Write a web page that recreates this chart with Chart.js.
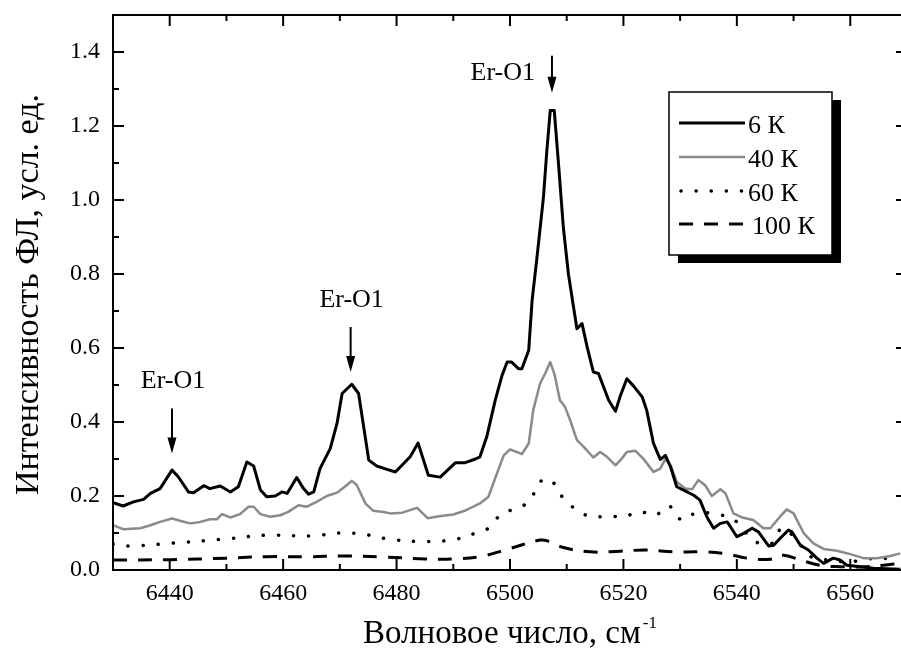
<!DOCTYPE html>
<html>
<head>
<meta charset="utf-8">
<script src="https://cdn.jsdelivr.net/npm/chart.js@4.4.0/dist/chart.umd.min.js"></script>
<style>
  html, body { margin: 0; padding: 0; background: #fff; overflow: hidden; }
  #plChart { display: block; }
</style>
</head>
<body>
<canvas id="plChart" width="910" height="653"></canvas>
<script>
// волновое число (см-1) и интенсивность ФЛ для каждой температуры
var wn6K = [6430, 6431.8, 6433.6, 6435.4, 6436.6, 6438.3, 6440.4, 6441.5, 6443.3, 6444.2, 6446, 6447.1, 6448.9, 6450.7, 6452.1, 6453.6, 6454.8, 6456, 6457.1, 6458.6, 6459.8, 6460.7, 6462.4, 6463.6, 6464.5, 6465.4, 6466.5, 6468.3, 6469.5, 6470.4, 6472.1, 6473.3, 6475.1, 6476.5, 6478.3, 6479.8, 6482.4, 6483.8, 6485.6, 6487.7, 6489, 6490.4, 6492.1, 6493.9, 6494.7, 6495.9, 6497.4, 6498.6, 6499.5, 6500.3, 6501.5, 6502.1, 6503.3, 6503.9, 6504.7, 6505.9, 6506.5, 6507.1, 6507.8, 6508.6, 6509.4, 6510.3, 6511.2, 6511.8, 6512.7, 6513.6, 6514.7, 6515.6, 6517.4, 6518.6, 6519.4, 6520.6, 6521.8, 6523.3, 6524.1, 6525.3, 6526.5, 6527.4, 6528.3, 6529.4, 6530.6, 6532.4, 6533.5, 6534.7, 6535.9, 6537.1, 6538.3, 6540, 6541.2, 6542.7, 6543.8, 6545.6, 6546.5, 6547.6, 6549.1, 6549.7, 6551.2, 6552.6, 6554.1, 6555.3, 6557, 6558.2, 6559.4, 6561.8, 6564.1, 6568.8];
var int6K = [0.182, 0.173, 0.184, 0.191, 0.207, 0.22, 0.27, 0.252, 0.211, 0.209, 0.228, 0.22, 0.227, 0.211, 0.225, 0.292, 0.281, 0.216, 0.198, 0.20, 0.211, 0.207, 0.25, 0.22, 0.205, 0.211, 0.274, 0.328, 0.396, 0.477, 0.502, 0.477, 0.297, 0.281, 0.272, 0.265, 0.306, 0.343, 0.256, 0.251, 0.27, 0.29, 0.29, 0.3, 0.306, 0.36, 0.459, 0.526, 0.562, 0.562, 0.544, 0.544, 0.594, 0.729, 0.837, 1.008, 1.134, 1.242, 1.242, 1.089, 0.927, 0.80, 0.711, 0.652, 0.666, 0.603, 0.535, 0.531, 0.459, 0.429, 0.468, 0.517, 0.497, 0.468, 0.432, 0.342, 0.299, 0.31, 0.279, 0.225, 0.216, 0.202, 0.189, 0.144, 0.113, 0.126, 0.13, 0.09, 0.099, 0.113, 0.103, 0.065, 0.067, 0.085, 0.108, 0.103, 0.067, 0.054, 0.032, 0.018, 0.032, 0.027, 0.013, 0.009, 0.005, 0.002];

var wn40K = [6430, 6431.9, 6434.8, 6436.6, 6438.3, 6440.4, 6441.8, 6443.6, 6445.4, 6447.1, 6448.3, 6449.2, 6450.7, 6452.4, 6453.9, 6454.8, 6456, 6457.7, 6459.5, 6460.9, 6462.7, 6464.2, 6465.9, 6467.7, 6469.5, 6471.2, 6472.1, 6473, 6474.5, 6475.9, 6477.7, 6478.9, 6481, 6483.6, 6485.5, 6487.5, 6490, 6492, 6494.7, 6496.2, 6497.7, 6498.9, 6500, 6501.2, 6502.1, 6503.3, 6504.1, 6505.3, 6506.2, 6507.1, 6507.9, 6508.8, 6509.7, 6510.6, 6511.8, 6513, 6514.7, 6515.9, 6517.1, 6518.6, 6519.7, 6520.6, 6522.1, 6523.5, 6525.3, 6526.5, 6527.4, 6528.3, 6529.4, 6530.9, 6532.1, 6533.2, 6534.4, 6535.6, 6537.1, 6538, 6539.4, 6540.9, 6542.9, 6544.7, 6545.9, 6547.6, 6548.8, 6550, 6551.8, 6553.5, 6555.3, 6557.6, 6560, 6562.3, 6564.7, 6567, 6568.8];
var int40K = [0.121, 0.11, 0.113, 0.121, 0.13, 0.139, 0.133, 0.126, 0.13, 0.137, 0.137, 0.151, 0.142, 0.151, 0.171, 0.171, 0.151, 0.144, 0.148, 0.157, 0.175, 0.171, 0.184, 0.2, 0.209, 0.229, 0.241, 0.229, 0.18, 0.16, 0.157, 0.153, 0.155, 0.168, 0.14, 0.145, 0.15, 0.16, 0.18, 0.198, 0.261, 0.31, 0.326, 0.319, 0.313, 0.342, 0.432, 0.504, 0.531, 0.562, 0.526, 0.459, 0.441, 0.405, 0.351, 0.333, 0.304, 0.319, 0.306, 0.283, 0.301, 0.319, 0.322, 0.301, 0.265, 0.274, 0.301, 0.283, 0.238, 0.22, 0.218, 0.243, 0.229, 0.2, 0.218, 0.207, 0.153, 0.142, 0.135, 0.113, 0.113, 0.144, 0.164, 0.153, 0.099, 0.072, 0.057, 0.052, 0.043, 0.032, 0.032, 0.038, 0.045];

var wn60K = [6430, 6433, 6440, 6450, 6457, 6465, 6470, 6474, 6478, 6484, 6490, 6494, 6496.2, 6498.6, 6501.2, 6503.6, 6505, 6507, 6509.2, 6511.8, 6514.4, 6517.4, 6520, 6523, 6525.6, 6528, 6530.3, 6532.7, 6536.8, 6540, 6543, 6546.2, 6548, 6551.5, 6553.5, 6557, 6559.7, 6562.3, 6568.8];
var int60K = [0.07, 0.065, 0.072, 0.084, 0.094, 0.092, 0.1, 0.097, 0.085, 0.077, 0.082, 0.1, 0.113, 0.153, 0.166, 0.189, 0.234, 0.245, 0.198, 0.162, 0.144, 0.146, 0.144, 0.157, 0.148, 0.173, 0.135, 0.153, 0.15, 0.13, 0.079, 0.072, 0.113, 0.063, 0.032, 0.027, 0.02, 0.029, 0.032];

var wn100K = [6430, 6440, 6450, 6457, 6465, 6470, 6478, 6485, 6490, 6494.7, 6500, 6505.3, 6507.1, 6509.4, 6514.1, 6519.4, 6524.1, 6528.8, 6533.5, 6537.7, 6541.8, 6545.9, 6548.2, 6551.2, 6554.6, 6558.2, 6562.9, 6565.8, 6568.8];
var int100K = [0.027, 0.028, 0.032, 0.036, 0.036, 0.038, 0.035, 0.03, 0.03, 0.036, 0.058, 0.081, 0.076, 0.061, 0.049, 0.051, 0.054, 0.049, 0.049, 0.045, 0.032, 0.029, 0.04, 0.027, 0.013, 0.009, 0.009, 0.013, 0.018];

var seriesNames = ["6 К", "40 К", "60 К", "100 К"];

var xTicks = [6440, 6460, 6480, 6500, 6520, 6540, 6560];
var yTicks = [0.0, 0.2, 0.4, 0.6, 0.8, 1.0, 1.2, 1.4];

// подписи пиков Er-O1: положение стрелки (волновое число, острие по интенсивности)
var peakLabels = ["Er-O1", "Er-O1", "Er-O1"];
var peakWn = [6440.4, 6471.9, 6507.4];
var peakTip = [0.315, 0.535, 1.29];

var FONT = "'Liberation Serif', 'Times New Roman', serif";
Chart.defaults.font.family = FONT;
Chart.defaults.color = "#000";

function toPoints(xs, ys) {
    var pts = [];
    for (var i = 0; i < xs.length && i < ys.length; i++) {
        pts.push({x: xs[i], y: ys[i]});
    }
    return pts;
}

var framePlugin = {
    id: "frame",
    afterDraw: function (chart) {
        var ctx = chart.ctx;
        var a = chart.chartArea;
        var xs = chart.scales.x, ys = chart.scales.y;
        var v, p;

        ctx.save();
        ctx.strokeStyle = "#000";
        ctx.lineWidth = 2;
        ctx.strokeRect(a.left, a.top, a.right - a.left, a.bottom - a.top);

        // засечки внутрь, на всех четырёх сторонах
        ctx.beginPath();
        for (v = 6430; v <= 6570; v += 10) {
            p = xs.getPixelForValue(v);
            var len = (v % 20 === 0) ? 11 : 6;
            ctx.moveTo(p, a.bottom); ctx.lineTo(p, a.bottom - len);
            ctx.moveTo(p, a.top); ctx.lineTo(p, a.top + len);
        }
        for (var k = 0; k <= 15; k++) {
            v = k / 10;
            p = ys.getPixelForValue(v);
            var len2 = (k % 2 === 0) ? 11 : 6;
            ctx.moveTo(a.left, p); ctx.lineTo(a.left + len2, p);
            ctx.moveTo(a.right, p); ctx.lineTo(a.right - len2, p);
        }
        ctx.stroke();

        // стрелки и подписи
        ctx.fillStyle = "#000";
        ctx.font = "26px " + FONT;
        for (var i = 0; i < peakLabels.length; i++) {
            var px = xs.getPixelForValue(peakWn[i]);
            var tip = ys.getPixelForValue(peakTip[i]);
            var shaft = (i === 2) ? 37 : 45;
            ctx.lineWidth = 2;
            ctx.beginPath();
            ctx.moveTo(px, tip - shaft);
            ctx.lineTo(px, tip - 12);
            ctx.stroke();
            ctx.beginPath();
            ctx.moveTo(px, tip);
            ctx.lineTo(px - 4.5, tip - 16);
            ctx.lineTo(px + 4.5, tip - 16);
            ctx.closePath();
            ctx.fill();
            ctx.textBaseline = "middle";
            if (i === 2) {
                ctx.textAlign = "right";
                ctx.fillText(peakLabels[i], px - 17, tip - shaft + 17);
            } else {
                ctx.textAlign = "center";
                ctx.fillText(peakLabels[i], px + 1, tip - shaft - 27);
            }
        }

        // легенда с тенью
        var lx = 669, ly = 92, lw = 163, lh = 163;
        ctx.fillStyle = "#000";
        ctx.fillRect(lx + 9, ly + 8, lw, lh);
        ctx.fillStyle = "#fff";
        ctx.fillRect(lx, ly, lw, lh);
        ctx.lineWidth = 1.5;
        ctx.strokeStyle = "#000";
        ctx.strokeRect(lx, ly, lw, lh);
        ctx.font = "26px " + FONT;
        ctx.textAlign = "left";
        ctx.textBaseline = "middle";
        var rows = [125, 159, 193, 226];
        chart.data.datasets.forEach(function (ds, j) {
            ctx.save();
            ctx.strokeStyle = ds.borderColor;
            ctx.lineWidth = ds.borderWidth;
            ctx.setLineDash(ds.borderDash || []);
            ctx.lineCap = ds.borderCapStyle || "butt";
            ctx.beginPath();
            ctx.moveTo(j === 2 ? 681 : 679, rows[j] - 2);
            ctx.lineTo(745, rows[j] - 2);
            ctx.stroke();
            ctx.restore();
            ctx.fillStyle = "#000";
            ctx.fillText(ds.label, j === 3 ? 752 : 748, rows[j] + 1);
        });

        // подписи осей
        ctx.fillStyle = "#000";
        ctx.font = "33px " + FONT;
        var main = "Волновое число, см";
        var wMain = ctx.measureText(main).width;
        ctx.font = "17px " + FONT;
        var wSup = ctx.measureText("-1").width;
        var cx = (a.left + a.right) / 2;
        var x0 = cx - (wMain + wSup + 2) / 2;
        ctx.textAlign = "left";
        ctx.textBaseline = "alphabetic";
        ctx.font = "33px " + FONT;
        ctx.fillText(main, x0, 643);
        ctx.font = "17px " + FONT;
        ctx.fillText("-1", x0 + wMain + 2, 628);

        ctx.save();
        ctx.translate(38, (a.top + a.bottom) / 2 + 2);
        ctx.rotate(-Math.PI / 2);
        ctx.font = "34px " + FONT;
        ctx.textAlign = "center";
        ctx.textBaseline = "alphabetic";
        ctx.fillText("Интенсивность ФЛ, усл. ед.", 0, 0);
        ctx.restore();

        ctx.restore();
    }
};

var ctx = document.getElementById("plChart").getContext("2d");
var chart = new Chart(ctx, {
    type: "scatter",
    data: {
        datasets: [
            {label: seriesNames[0], data: toPoints(wn6K, int6K), showLine: true, borderColor: "#000", borderWidth: 3, pointRadius: 0, tension: 0, borderJoinStyle: "round"},
            {label: seriesNames[1], data: toPoints(wn40K, int40K), showLine: true, borderColor: "#8a8a8a", borderWidth: 2.5, pointRadius: 0, tension: 0, borderJoinStyle: "round"},
            {label: seriesNames[2], data: toPoints(wn60K, int60K), showLine: true, borderColor: "#000", borderWidth: 3.5, borderDash: [0.1, 15], borderCapStyle: "round", pointRadius: 0, tension: 0.4},
            {label: seriesNames[3], data: toPoints(wn100K, int100K), showLine: true, borderColor: "#000", borderWidth: 3, borderDash: [14, 11], pointRadius: 0, tension: 0.4}
        ]
    },
    options: {
        responsive: false,
        animation: false,
        devicePixelRatio: 1,
        layout: {padding: {left: 0, top: 15, right: 3, bottom: 0}},
        plugins: {legend: {display: false}, tooltip: {enabled: false}},
        scales: {
            x: {
                type: "linear",
                min: 6430,
                max: 6570,
                grid: {display: false, drawTicks: false},
                border: {display: false},
                afterBuildTicks: function (scale) {
                    scale.ticks = xTicks.map(function (v) { return {value: v}; });
                },
                afterFit: function (scale) {
                    scale.height = 83;
                    scale.paddingLeft = 0;
                    scale.paddingRight = 0;
                },
                ticks: {
                    color: "#000",
                    padding: 9,
                    maxRotation: 0,
                    font: {family: FONT, size: 24},
                    callback: function (v) { return String(v); }
                }
            },
            y: {
                type: "linear",
                min: 0,
                max: 1.5,
                grid: {display: false, drawTicks: false},
                border: {display: false},
                afterBuildTicks: function (scale) {
                    scale.ticks = yTicks.map(function (v) { return {value: v}; });
                },
                afterFit: function (scale) {
                    scale.width = 113;
                    scale.paddingTop = 0;
                    scale.paddingBottom = 0;
                },
                ticks: {
                    color: "#000",
                    padding: 13,
                    font: {family: FONT, size: 24},
                    callback: function (v) { return Number(v).toFixed(1); }
                }
            }
        }
    },
    plugins: [framePlugin]
});
</script>
</body>
</html>
